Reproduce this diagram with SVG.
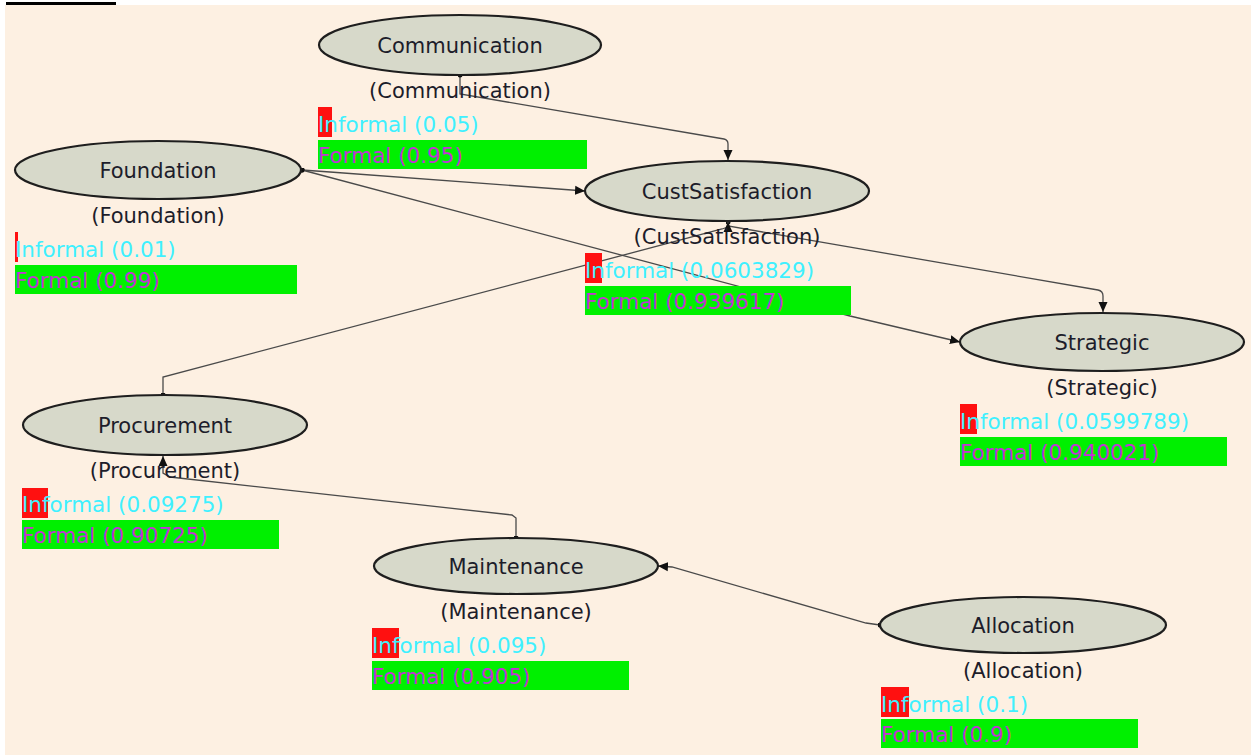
<svg xmlns="http://www.w3.org/2000/svg" width="1251" height="755" viewBox="0 0 1251 755">
  <style>
    .node ellipse { fill: #d7d9ca; stroke: #1e1e1e; stroke-width: 2.2; }
    .title, .paren { font-family: "DejaVu Sans", Verdana, sans-serif; font-size: 21px; fill: #1d1d2a; text-anchor: middle; }
    .inf { font-family: "DejaVu Sans", Verdana, sans-serif; font-size: 21.5px; fill: #3ff0ff; }
    .frm { font-family: "DejaVu Sans", Verdana, sans-serif; font-size: 21.5px; fill: #c233d6; }
    .red { fill: #ff1010; }
    .green { fill: #00f000; }
    .edge { fill: none; stroke: #4a4a4a; stroke-width: 1.3; marker-end: url(#arrow); marker-start: url(#dot); }
  </style>
  <defs>
    <marker id="arrow" viewBox="0 0 10 10" refX="10" refY="5" markerWidth="10" markerHeight="10" markerUnits="userSpaceOnUse" orient="auto">
      <path d="M0,0.5 L10,5 L0,9.5 Z" fill="#111"/>
    </marker>
    <marker id="dot" viewBox="0 0 6 6" refX="3" refY="3" markerWidth="5" markerHeight="5" markerUnits="userSpaceOnUse">
      <circle cx="3" cy="3" r="3" fill="#111"/>
    </marker>
  </defs>

  <!-- canvas -->
  <rect x="0" y="0" width="1251" height="755" fill="#ffffff"/>
  <rect x="5" y="5" width="1246" height="750" fill="#fdf0e2"/>
  <rect x="6" y="2" width="110" height="3" fill="#000"/>

  <!-- connectors -->
  <g id="connectors">
    <path class="edge" d="M460,75 V94 L724,139 Q728,140 728,144 V160"/>
    <path class="edge" d="M302,170 L330,172 L585,191"/>
    <path class="edge" d="M302,170 L850,316 L960,342"/>
    <path class="edge" d="M728,222 V226 L1098,290 Q1103,291 1103,296 V312"/>
    <path class="edge" d="M163,395 V377 L722,229 L728,227 V222"/>
    <path class="edge" d="M516,538 V518 L512,515 L170,477 L163,473 V456"/>
    <path class="edge" d="M880,625 L866,623 L672,567 L658,566"/>
  </g>

  <!-- nodes -->
  <g id="Communication" class="node">
    <ellipse cx="460" cy="45" rx="141" ry="30"/>
    <text class="title" x="460" y="53">Communication</text>
    <text class="paren" x="460" y="98">(Communication)</text>
    <rect class="red" x="318" y="107" width="14" height="30"/>
    <text class="inf" x="318" y="132">Informal (0.05)</text>
    <rect class="green" x="318" y="140" width="269" height="29"/>
    <text class="frm" x="318" y="163">Formal (0.95)</text>
  </g>

  <g id="Foundation" class="node">
    <ellipse cx="158" cy="170" rx="143" ry="29"/>
    <text class="title" x="158" y="178">Foundation</text>
    <text class="paren" x="158" y="223">(Foundation)</text>
    <rect class="red" x="15" y="232" width="3" height="30"/>
    <text class="inf" x="15" y="257">Informal (0.01)</text>
    <rect class="green" x="15" y="265" width="282" height="29"/>
    <text class="frm" x="15" y="288">Formal (0.99)</text>
  </g>

  <g id="CustSatisfaction" class="node">
    <ellipse cx="727" cy="191" rx="142" ry="30"/>
    <text class="title" x="727" y="199">CustSatisfaction</text>
    <text class="paren" x="727" y="244">(CustSatisfaction)</text>
    <rect class="red" x="585" y="253" width="17" height="30"/>
    <text class="inf" x="585" y="278">Informal (0.0603829)</text>
    <rect class="green" x="585" y="286" width="266" height="29"/>
    <text class="frm" x="585" y="309">Formal (0.939617)</text>
  </g>

  <g id="Strategic" class="node">
    <ellipse cx="1102" cy="342" rx="142" ry="29"/>
    <text class="title" x="1102" y="350">Strategic</text>
    <text class="paren" x="1102" y="395">(Strategic)</text>
    <rect class="red" x="960" y="404" width="17" height="30"/>
    <text class="inf" x="960" y="429">Informal (0.0599789)</text>
    <rect class="green" x="960" y="437" width="267" height="29"/>
    <text class="frm" x="960" y="460">Formal (0.940021)</text>
  </g>

  <g id="Procurement" class="node">
    <ellipse cx="165" cy="425" rx="142" ry="30"/>
    <text class="title" x="165" y="433">Procurement</text>
    <text class="paren" x="165" y="478">(Procurement)</text>
    <rect class="red" x="22" y="488" width="26" height="30"/>
    <text class="inf" x="22" y="512">Informal (0.09275)</text>
    <rect class="green" x="22" y="520" width="257" height="29"/>
    <text class="frm" x="22" y="543">Formal (0.90725)</text>
  </g>

  <g id="Maintenance" class="node">
    <ellipse cx="516" cy="566" rx="142" ry="28"/>
    <text class="title" x="516" y="574">Maintenance</text>
    <text class="paren" x="516" y="619">(Maintenance)</text>
    <rect class="red" x="372" y="628" width="27" height="30"/>
    <text class="inf" x="372" y="653">Informal (0.095)</text>
    <rect class="green" x="372" y="661" width="257" height="29"/>
    <text class="frm" x="372" y="684">Formal (0.905)</text>
  </g>

  <g id="Allocation" class="node">
    <ellipse cx="1023" cy="625" rx="143" ry="28"/>
    <text class="title" x="1023" y="633">Allocation</text>
    <text class="paren" x="1023" y="678">(Allocation)</text>
    <rect class="red" x="881" y="687" width="28" height="30"/>
    <text class="inf" x="881" y="712">Informal (0.1)</text>
    <rect class="green" x="881" y="719" width="257" height="29"/>
    <text class="frm" x="881" y="742">Formal (0.9)</text>
  </g>
</svg>
